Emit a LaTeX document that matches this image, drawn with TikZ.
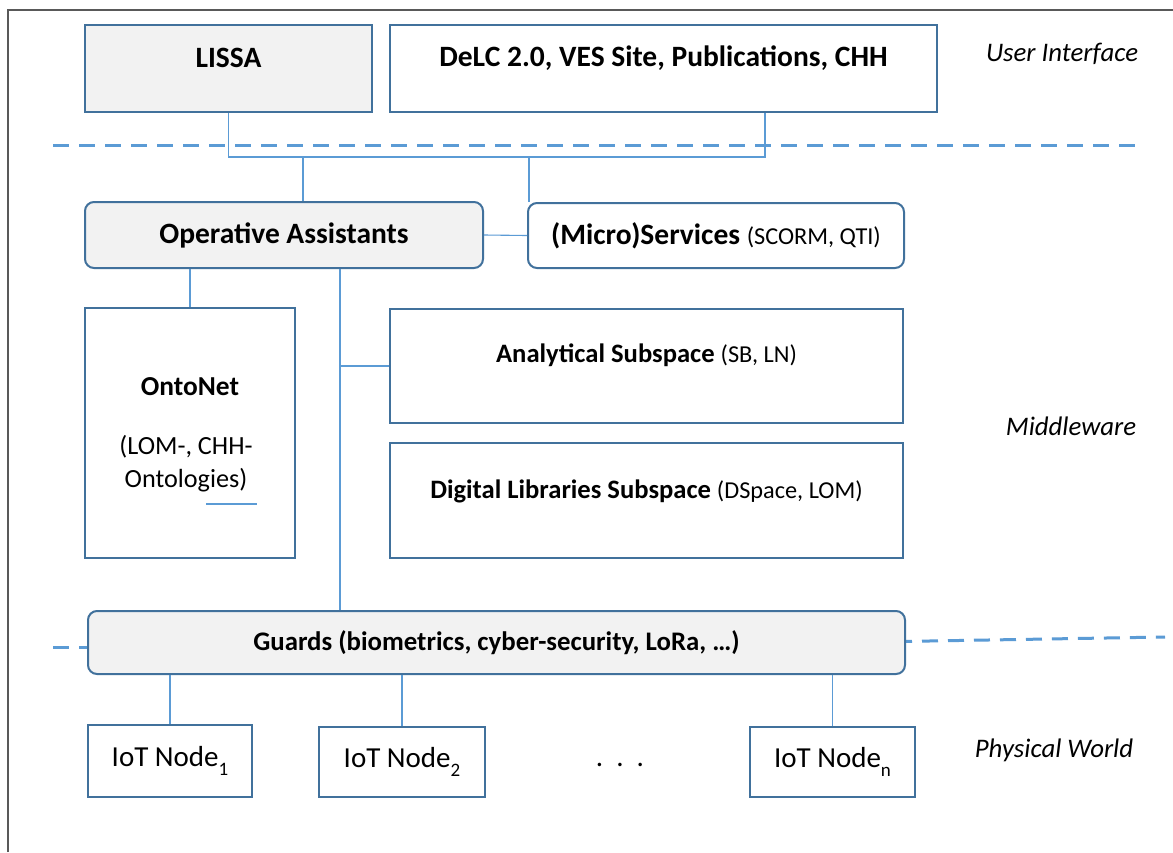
\documentclass[tikz,border=0pt]{standalone}
\usepackage{fontspec}
\setmainfont{Carlito}
\usetikzlibrary{calc}
\definecolor{boxblue}{HTML}{41719C}
\definecolor{lineblue}{HTML}{5B9BD5}
\definecolor{boxgray}{HTML}{F2F2F2}
\definecolor{framegray}{HTML}{595959}
\newcommand{\lowsub}[1]{\raisebox{-9pt}{\fontsize{19}{22}\selectfont #1}}
\begin{document}
\begin{tikzpicture}[x=1pt,y=-1pt,
  box/.style={draw=boxblue, line width=2pt, inner sep=0pt, anchor=north west, fill=white},
  graybox/.style={box, fill=boxgray},
  roundbox/.style={box, rounded corners=9pt},
  conn/.style={draw=lineblue, line width=1.1pt},
  divider/.style={draw=lineblue, line width=3pt, dash pattern=on 16pt off 10pt},
  bigbold/.style={font=\fontsize{29.5}{34}\selectfont\bfseries},
  midbold/.style={font=\fontsize{27.4}{31}\selectfont\bfseries},
  layer/.style={font=\fontsize{26.8}{31}\selectfont\itshape},
  plain/.style={font=\fontsize{26.2}{33}\selectfont},
  iotbox/.style={box, font=\fontsize{29}{33}\selectfont}
]
\useasboundingbox (0,0) rectangle (1173,852);
\fill[white] (0,0) rectangle (1173,852);
% frame
\draw[framegray, line width=1.6pt] (8,852) -- (8,10) -- (1173,10);

% dividers
\coordinate (d1l) at (53,145);
\coordinate (d1r) at (1140,145);
\draw[divider] (d1l) -- (d1r);

% top boxes
\node[graybox, minimum width=287pt, minimum height=87pt] (lissa) at (84,24) {};
\node[bigbold] (lissaT) at ($(lissa.north)+(0,34)$) {LISSA};
\node[box, minimum width=547pt, minimum height=87pt] (delc) at (389,24) {};
\node[bigbold] (delcT) at ($(delc.north)+(0,34)$) {DeLC 2.0, VES Site, Publications, CHH};

% middle boxes
\node[roundbox, fill=boxgray, minimum width=398pt, minimum height=66pt, bigbold] (oa) at (84,201) {Operative Assistants};
\node[roundbox, minimum width=376pt, minimum height=65pt] (ms) at (527,202)
  {\fontsize{29.5}{34}\selectfont\bfseries (Micro)Services\ \fontsize{24.3}{28}\selectfont\mdseries (SCORM, QTI)};

% bus between user interface and middleware
\coordinate (busy) at (0,157);
\coordinate (delcdrop) at ($(delc.south west)+(376,0)$);
\coordinate (oadrop) at ($(oa.north west)+(219,0)$);
\coordinate (msdrop) at ($(ms.north west)+(2,0)$);
\draw[conn] (lissa.south) -- (lissa.south |- busy) -- (delcdrop |- busy) -- (delcdrop);
\draw[conn] (oadrop) -- (oadrop |- busy);
\draw[conn] (msdrop) -- (msdrop |- busy);
\draw[conn] (oa.east) -- (ms.west);

\node[box, minimum width=210pt, minimum height=250pt] (onto) at (84,307) {};
\node[midbold] (ontoT) at ($(onto.north)+(0,80)$) {OntoNet};
\node[plain, align=center] (ontoS) at ($(onto.north)+(-4,157)$) {(LOM-, CHH-\\Ontologies)};
\draw[conn] ($(onto.north west)+(122,197)$) -- ($(onto.north west)+(173,197)$);
\coordinate (oaonto) at ($(oa.south west)+(106,0)$);
\draw[conn] (oaonto) -- (oaonto |- onto.north);

\node[box, minimum width=513pt, minimum height=114pt] (ana) at (389,308) {};
\node (anaT) at ($(ana.north)+(0,47)$) {\fontsize{26.6}{31}\selectfont\bfseries Analytical Subspace\ \fontsize{24.3}{28}\selectfont\mdseries (SB, LN)};
\node[box, minimum width=513pt, minimum height=115pt] (dl) at (389,442) {};
\node (dlT) at ($(dl.north)+(0,49)$) {\fontsize{26.6}{31}\selectfont\bfseries Digital Libraries Subspace\ \fontsize{24.3}{28}\selectfont\mdseries (DSpace, LOM)};

% dividers at guards level
\coordinate (d2l) at (53,647);
\coordinate (d2r) at (1165,637);
\draw[divider] (d2l) -- (120,647);
\draw[divider] (870,642) -- (d2r);

% guards
\node[roundbox, fill=boxgray, minimum width=817pt, minimum height=63pt, font=\fontsize{26.8}{31}\selectfont\bfseries] (guards) at (87,610) {Guards (biometrics, cyber-security, LoRa, …)};

\coordinate (spine) at ($(oa.south west)+(256,0)$);
\draw[conn] (spine) -- (spine |- guards.north);
\draw[conn] (spine |- ana.west) -- (ana.west);

% IoT nodes
\node[iotbox, minimum width=164pt, minimum height=72pt] (iot1) at (87,724) {IoT Node\lowsub{1}};
\node[iotbox, minimum width=166pt, minimum height=70pt] (iot2) at (318,726) {IoT Node\lowsub{2}};
\node[iotbox, minimum width=165pt, minimum height=70pt] (iotn) at (749,726) {IoT Node\lowsub{n}};
\node[font=\fontsize{29}{33}\selectfont] (dots) at (620,765) {.\ \ .\ \ .};
\draw[conn] (iot1.north) -- (iot1.north |- guards.south);
\draw[conn] (iot2.north) -- (iot2.north |- guards.south);
\draw[conn] (iotn.north) -- (iotn.north |- guards.south);

% layer labels
\node[layer] (ui) at (1062,54) {User Interface};
\node[layer] (mw) at (1071,426) {Middleware};
\node[layer] (pw) at (1054,750) {Physical World};
\end{tikzpicture}
\end{document}
